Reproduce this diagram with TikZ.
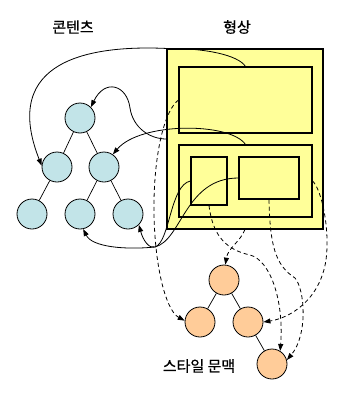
\documentclass[tikz,border=0pt]{standalone}
\usepackage{fontspec}
\newfontfamily\krfont[FakeBold=0.6]{Noto Sans CJK KR}
\usetikzlibrary{arrows.meta}
\definecolor{ContentFill}{HTML}{C2E4E8}
\definecolor{StyleFill}{HTML}{FFCC99}
\definecolor{ShapeFill}{HTML}{FFFF99}

\begin{document}
\begin{tikzpicture}[x=1pt,y=-1pt,
  lbl/.style={font=\krfont\fontsize{15}{18}\selectfont,inner sep=0pt},
  frame/.style={draw,line width=1.1pt,inner sep=0pt,fill=ShapeFill},
  cnode/.style={circle,draw,fill=ContentFill,minimum size=30pt,inner sep=0pt,line width=0.8pt},
  snode/.style={cnode,fill=StyleFill},
  edge/.style={line width=0.7pt},
  link/.style={-{Triangle[length=7pt,width=5pt]},line width=0.8pt},
  dlink/.style={link,dash pattern=on 4pt off 3pt}]
\useasboundingbox (0,0) rectangle (342,407);
% labels
\node[lbl] (contentlbl) at (73,27) {콘텐츠};
\node[lbl] (shapelbl) at (237,27) {형상};
\node[lbl] (stylelbl) at (199,366) {스타일 문맥};
% shape boxes
\node[frame,minimum width=156pt,minimum height=180pt] (shape) at (245,139) {};
\node[frame,minimum width=133pt,minimum height=66pt] (top) at (245.5,100) {};
\node[frame,minimum width=133pt,minimum height=72pt] (body) at (245.5,181) {};
\node[frame,minimum width=36pt,minimum height=48pt] (boxa) at (209,181) {};
\node[frame,minimum width=60pt,minimum height=42pt] (boxb) at (269,178) {};
% content tree
\node[cnode] (croot) at (80,118) {};
\node[cnode] (cl) at (57,167) {};
\node[cnode] (cr) at (104,167) {};
\node[cnode] (cll) at (32,214) {};
\node[cnode] (crm) at (80,214) {};
\node[cnode] (crr) at (128,214) {};
% style tree
\node[snode] (sroot) at (224,280) {};
\node[snode] (sl) at (200,322) {};
\node[snode] (sr) at (248,322) {};
\node[snode] (srr) at (272,364) {};
\foreach \a/\b in {croot/cl,croot/cr,cl/cll,cr/crm,cr/crr,sroot/sl,sroot/sr,sr/srr}\draw[edge] (\a) -- (\b);
% shape -> content
\coordinate (junc) at (155,247);
\draw[link] (top.north) .. controls (238,55) and (205,48) .. (shape.north west) .. controls (90,45) and (0,60) .. (cl.175);
\draw[link] (shape.west) .. controls (150,139) and (133,128) .. (130,108) .. controls (127,85) and (105,78) .. (croot.45);
\draw[link] (body.north) .. controls (230,122) and (140,122) .. (cr.55);
\draw[link] (boxa.west) .. controls (170,185) and (170,242) .. (junc) .. controls (149,249) and (143,240) .. (crr.-45);
\draw[link] (boxb.west) .. controls (185,178) and (182,240) .. (junc) .. controls (125,250) and (92,247) .. (crm.-78);
% shape -> style
\draw[dlink] (top.west) .. controls (165,110) and (155,150) .. (154,200) .. controls (153,260) and (165,310) .. (sl.175);
\draw[dlink] (shape.south) .. controls (240,242) and (228,248) .. (sroot.85);
\draw[dlink] (boxa.south) .. controls (213,238) and (228,250) .. (250,255) .. controls (270,260) and (284,300) .. (srr.58);
\draw[dlink] (boxb.south) .. controls (270,245) and (275,265) .. (295,278) .. controls (305,290) and (308,335) .. (srr.15);
\draw[dlink] (body.east) .. controls (322,190) and (330,230) .. (326,260) .. controls (320,300) and (290,318) .. (sr.east);
\end{tikzpicture}
\end{document}
